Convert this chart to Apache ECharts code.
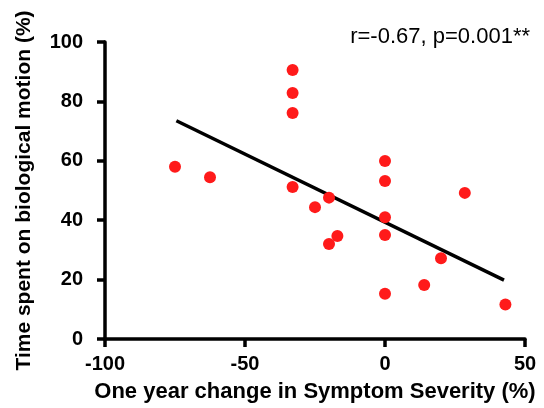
<!DOCTYPE html>
<html>
<head>
<meta charset="utf-8">
<script src="https://cdn.jsdelivr.net/npm/echarts@6/dist/echarts.min.js"></script>
<style>
  html, body { margin: 0; padding: 0; background: #fff; }
  #main { width: 544px; height: 408px; }
</style>
</head>
<body>
<div id="main"></div>
<script>
// change in symptom severity (%) and time on biological motion (%)
var changeX = [-75, -62.5, -33, -33, -33, -33, 0, 0, 28.5, -20, -25, 0, -17, -20, 0, 20, 14, 0, 43];
var timeY   = [58, 54.5, 90.6, 82.8, 76.1, 51.2, 59.9, 53.2, 49.2, 47.6, 44.4, 41, 34.7, 32, 35, 27.2, 18.2, 15.2, 11.6];
// regression line end points
var fitX = [-74.5, 42.5];
var fitY = [73.5, 19.8];
var statText = 'r=-0.67, p=0.001**';

var points = [];
for (var i = 0; i < changeX.length; i++) {
    points.push([changeX[i], timeY[i]]);
}
var fitLine = [[fitX[0], fitY[0]], [fitX[1], fitY[1]]];

var chart = echarts.init(document.getElementById('main'));
var font = '"Liberation Sans", Arial, sans-serif';
var option = {
    animation: false,
    title: {
        text: statText,
        right: 9,
        top: 21,
        textStyle: { fontFamily: font, fontSize: 22, fontWeight: 'normal', color: '#000' }
    },
    grid: { left: 105, right: 19, top: 42, bottom: 69 },
    xAxis: {
        type: 'value',
        min: -100, max: 50, interval: 50,
        name: 'One year change in Symptom Severity (%)',
        nameLocation: 'middle',
        nameGap: 42,
        nameTextStyle: { fontFamily: font, fontSize: 22, fontWeight: 'bold', color: '#000' },
        axisLine: { onZero: false, lineStyle: { color: '#000', width: 3.5 } },
        axisTick: { show: true, length: 8, lineStyle: { color: '#000', width: 3.5 } },
        axisLabel: { margin: 15, fontFamily: font, fontSize: 20, fontWeight: 'bold', color: '#000' },
        splitLine: { show: false }
    },
    yAxis: {
        type: 'value',
        min: 0, max: 100, interval: 20,
        name: 'Time spent on biological motion (%)',
        nameLocation: 'middle',
        nameGap: 70,
        nameTextStyle: { fontFamily: font, fontSize: 21, fontWeight: 'bold', color: '#000' },
        axisLine: { show: true, onZero: false, lineStyle: { color: '#000', width: 3.5 } },
        axisTick: { show: true, length: 8, lineStyle: { color: '#000', width: 3.5 } },
        axisLabel: { margin: 22, fontFamily: font, fontSize: 20, fontWeight: 'bold', color: '#000' },
        splitLine: { show: false }
    },
    series: [
        {
            type: 'line',
            data: fitLine,
            symbol: 'none',
            lineStyle: { color: '#000', width: 3.5 },
            z: 1
        },
        {
            type: 'scatter',
            data: points,
            symbolSize: 12,
            itemStyle: { color: '#ff1a1a', opacity: 1 },
            z: 2
        }
    ]
};
chart.setOption(option);
</script>
</body>
</html>
